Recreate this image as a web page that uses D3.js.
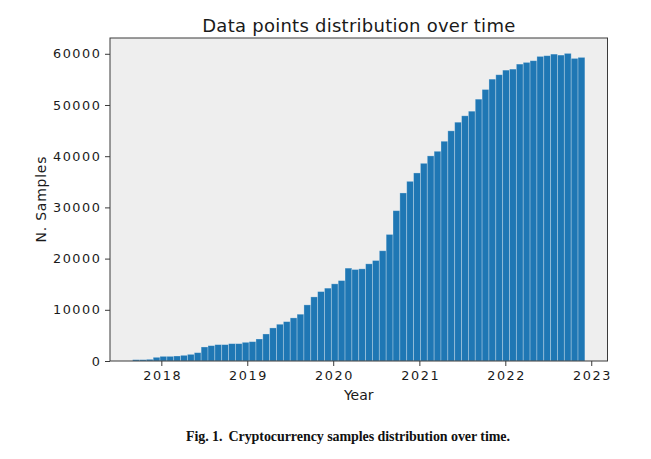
<!DOCTYPE html>
<html>
<head>
<meta charset="utf-8">
<script src="https://cdn.jsdelivr.net/npm/d3@7"></script>
<style>
  html, body { margin: 0; padding: 0; background: #ffffff; }
  svg { display: block; }
</style>
</head>
<body>
<script>
// ---------------- DATA ----------------
const title = "Data points distribution over time";
const xLabel = "Year";
const yLabel = "N. Samples";
const captionBold = "Fig. 1.";
const captionText = "Cryptocurrency samples distribution over time.";

// histogram range (dates) and number of bins
const rangeStart = "2017-09-01";
const rangeEnd = "2022-12-05";

// sample counts per bin (66 bins)
const counts = [
  260, 260, 330, 720, 910, 910, 980, 1110, 1300, 1630,
  2740, 3000, 3200, 3200, 3390, 3390, 3650, 3780, 4300, 5280,
  6460, 7180, 7690, 8420, 9140, 10960, 12520, 13560, 14230, 15070,
  15710, 18140, 17870, 18000, 18980, 19630, 21530, 24720, 29360, 32820,
  35090, 36730, 38610, 40060, 40960, 42920, 44950, 46640, 47890, 48790,
  51140, 53030, 55050, 55910, 56810, 57010, 57990, 58320, 58650, 59490,
  59630, 59940, 59750, 60080, 59100, 59300
];

const yTicks = [0, 10000, 20000, 30000, 40000, 50000, 60000];
const xTickYears = [2018, 2019, 2020, 2021, 2022, 2023];

// ---------------- LAYOUT ----------------
const W = 651, H = 459;
const plot = { left: 110, right: 607.5, top: 38, bottom: 361 };

const svg = d3.select("body").append("svg")
  .attr("width", W).attr("height", H);

const parse = d3.utcParse("%Y-%m-%d");
const t0 = parse(rangeStart), t1 = parse(rangeEnd);
const nBins = counts.length;
const binMs = (t1 - t0) / nBins;
const bins = counts.map((c, i) => ({
  x0: new Date(+t0 + i * binMs),
  x1: new Date(+t0 + (i + 1) * binMs),
  value: c
}));

// 5% margins like matplotlib
const span = t1 - t0;
const x = d3.scaleUtc()
  .domain([new Date(+t0 - span * 0.05), new Date(+t1 + span * 0.05)])
  .range([plot.left, plot.right]);

const yMax = d3.max(counts) * 1.05;
const y = d3.scaleLinear()
  .domain([0, yMax])
  .range([plot.bottom, plot.top]);

// background
svg.append("rect")
  .attr("x", plot.left).attr("y", plot.top)
  .attr("width", plot.right - plot.left)
  .attr("height", plot.bottom - plot.top)
  .attr("fill", "#eeeeee");

// bars
svg.append("g").selectAll("rect")
  .data(bins)
  .join("rect")
  .attr("x", d => x(d.x0))
  .attr("width", d => x(d.x1) - x(d.x0))
  .attr("y", d => y(d.value))
  .attr("height", d => y(0) - y(d.value))
  .attr("fill", "#1f77b4")
  .attr("stroke", "#ffffff")
  .attr("stroke-opacity", 0.35)
  .attr("stroke-width", 0.8);

// frame
svg.append("rect")
  .attr("x", plot.left).attr("y", plot.top)
  .attr("width", plot.right - plot.left)
  .attr("height", plot.bottom - plot.top)
  .attr("fill", "none")
  .attr("stroke", "#3a3a3a")
  .attr("stroke-width", 1);

const tickFont = "'DejaVu Sans', sans-serif";

// x axis
const xAxis = d3.axisBottom(x)
  .tickValues(xTickYears.map(yr => new Date(Date.UTC(yr, 0, 1))))
  .tickFormat(d3.utcFormat("%Y"))
  .tickSize(5).tickSizeOuter(0).tickPadding(5);
const gx = svg.append("g")
  .attr("transform", `translate(0,${plot.bottom})`)
  .call(xAxis);
gx.select(".domain").remove();
gx.selectAll(".tick line").attr("stroke", "#3a3a3a");
gx.selectAll(".tick text")
  .attr("fill", "#1a1a1a")
  .attr("dx", "0.8")
  .style("font-family", tickFont)
  .style("font-size", "12.8px")
  .style("letter-spacing", "1.6px");

// y axis
const yAxis = d3.axisLeft(y)
  .tickValues(yTicks)
  .tickFormat(d3.format("d"))
  .tickSize(5).tickSizeOuter(0).tickPadding(3.4);
const gy = svg.append("g")
  .attr("transform", `translate(${plot.left},0)`)
  .call(yAxis);
gy.select(".domain").remove();
gy.selectAll(".tick line").attr("stroke", "#3a3a3a");
gy.selectAll(".tick text")
  .attr("fill", "#1a1a1a")
  .style("font-family", tickFont)
  .style("font-size", "12.8px")
  .style("letter-spacing", "1.6px");

// title
svg.append("text")
  .attr("x", (plot.left + plot.right) / 2)
  .attr("y", 31.5)
  .attr("text-anchor", "middle")
  .attr("textLength", 313)
  .attr("lengthAdjust", "spacing")
  .style("font-family", tickFont)
  .style("font-size", "18px")
  .attr("fill", "#1a1a1a")
  .text(title);

// x label
svg.append("text")
  .attr("x", (plot.left + plot.right) / 2)
  .attr("y", 400)
  .attr("text-anchor", "middle")
  .style("font-family", tickFont)
  .style("font-size", "14px")
  .attr("fill", "#1a1a1a")
  .text(xLabel);

// y label
svg.append("text")
  .attr("transform", `translate(45.5,${(plot.top + plot.bottom) / 2}) rotate(-90)`)
  .attr("text-anchor", "middle")
  .attr("textLength", 86)
  .attr("lengthAdjust", "spacing")
  .style("font-family", tickFont)
  .style("font-size", "14px")
  .attr("fill", "#1a1a1a")
  .text(yLabel);

// caption
const cap = svg.append("text")
  .attr("x", 186)
  .attr("y", 441)
  .attr("text-anchor", "start")
  .attr("textLength", 324)
  .attr("lengthAdjust", "spacing")
  .style("font-family", "'Liberation Serif', 'Times New Roman', serif")
  .style("font-size", "14px")
  .style("font-weight", "bold")
  .attr("fill", "#111111");
cap.append("tspan").text(captionBold);
cap.append("tspan").attr("dx", 6).text(captionText);
</script>
</body>
</html>
